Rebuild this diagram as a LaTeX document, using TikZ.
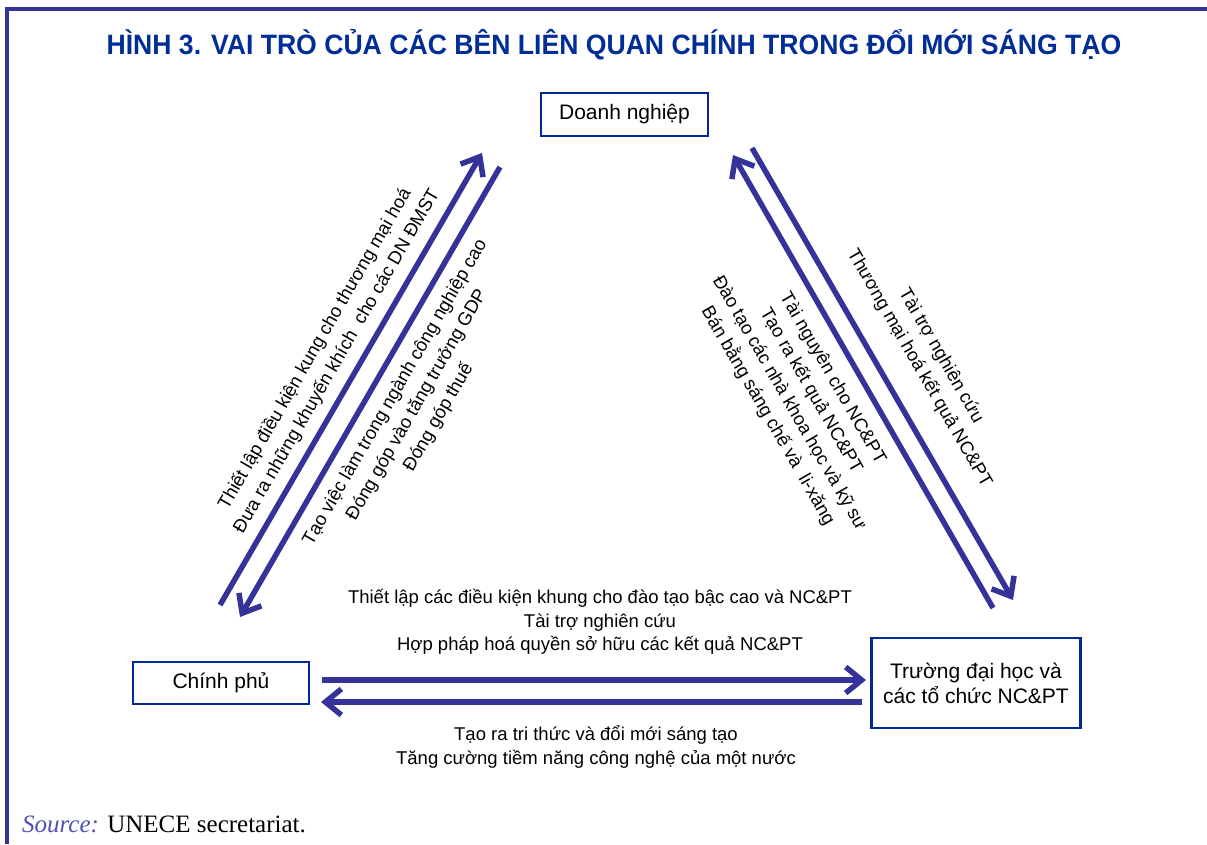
\documentclass[tikz,border=0pt]{standalone}
\usepackage{fontspec}
\setmainfont{Liberation Sans}
\newfontfamily\srcfont{Liberation Serif}
\usepackage{xcolor}
\usetikzlibrary{arrows.meta}
\definecolor{framecol}{RGB}{51, 51, 153}
\definecolor{titleblue}{RGB}{0, 45, 150}
\definecolor{boxblue}{RGB}{0, 40, 150}
\definecolor{srcblue}{RGB}{80, 80, 180}

\tikzset{
  actor/.style={draw=boxblue, line width=2.4pt, fill=white, font=\fontsize{21}{25}\selectfont,
    align=center, inner sep=0pt},
  flow/.style={framecol, line width=5.5pt, -{Straight Barb[length=16pt, width=26pt]}},
  role/.style={font=\fontsize{18.5}{25}\selectfont, align=center, inner sep=0pt},
}

\begin{document}
\begin{tikzpicture}[x=1pt,y=-1pt]
\useasboundingbox (0,0) rectangle (1207,844);
% Frame
\draw[framecol, line width=4pt] (7,844) -- (7,9) -- (1207,9);
% Title
\node[titleblue, font=\fontsize{28}{32}\selectfont\bfseries] (title) at (614,45)
  {\scalebox{0.95}[1]{HÌNH 3. VAI TRÒ CỦA CÁC BÊN LIÊN QUAN CHÍNH TRONG ĐỔI MỚI SÁNG TẠO}};
% Actors
\node[actor, minimum width=167pt, minimum height=43pt] (dn) at (624.5,114.5) {Doanh nghiệp};
\node[actor, minimum width=176pt, minimum height=42pt] (cp) at (221,683) {Chính phủ};
\node[actor, minimum width=209pt, minimum height=90pt] (dh) at (976,683) {Trường đại học và\\các tổ chức NC\&PT};
% Arrow ends
\coordinate (cp1) at (220,605);  \coordinate (dn1) at (482,153);
\coordinate (dn2) at (500,167);  \coordinate (cp2) at (240,617);
\coordinate (dh1) at (993,608);  \coordinate (dn3) at (733,155);
\coordinate (dn4) at (752,148);  \coordinate (dh2) at (1013,600);
\coordinate (cp3) at (322,680);  \coordinate (dh3) at (866,680);
\coordinate (dh4) at (862,702);  \coordinate (cp4) at (321,702);
% Flows
\draw[flow] (cp1) -- (dn1);
\draw[flow] (dn2) -- (cp2);
\draw[flow] (dh1) -- (dn3);
\draw[flow] (dn4) -- (dh2);
\draw[flow] (cp3) -- (dh3);
\draw[flow] (dh4) -- (cp4);
% Roles
\node[role, rotate=60] (gov2biz) at (326,355)
  {Thiết lập điều kiện kung cho thương mại hoá\\Đưa ra những khuyến khích\ \ cho các DN ĐMST};
\node[role, rotate=60] (biz2gov) at (417,405)
  {Tạo việc làm trong ngành công nghiệp cao\\Đóng góp vào tăng trưởng GDP\\Đóng góp thuế};
\node[role, rotate=-60] (biz2uni) at (930,362)
  {Tài trợ nghiên cứu\\Thương mại hoá kết quả NC\&PT};
\node[role, rotate=-60] (uni2biz) at (800,397)
  {Tài nguyên cho NC\&PT\\Tạo ra kết quả NC\&PT\\Đào tạo các nhà khoa học và kỹ sư\\Bán bằng sáng chế và\ \ li-xăng};
\node[role, font=\fontsize{18.5}{23.5}\selectfont] (gov2uni) at (600,622)
  {Thiết lập các điều kiện khung cho đào tạo bậc cao và NC\&PT\\Tài trợ nghiên cứu\\Hợp pháp hoá quyền sở hữu các kết quả NC\&PT};
\node[role, font=\fontsize{18.5}{23.5}\selectfont] (uni2gov) at (596,747)
  {Tạo ra tri thức và đổi mới sáng tạo\\Tăng cường tiềm năng công nghệ của một nước};
% Source
\node[anchor=base west, inner sep=0pt, font=\srcfont\fontsize{25}{29}\selectfont] (src) at (22,832)
  {\textcolor{srcblue}{\itshape Source:} UNECE secretariat.};
\end{tikzpicture}
\end{document}
